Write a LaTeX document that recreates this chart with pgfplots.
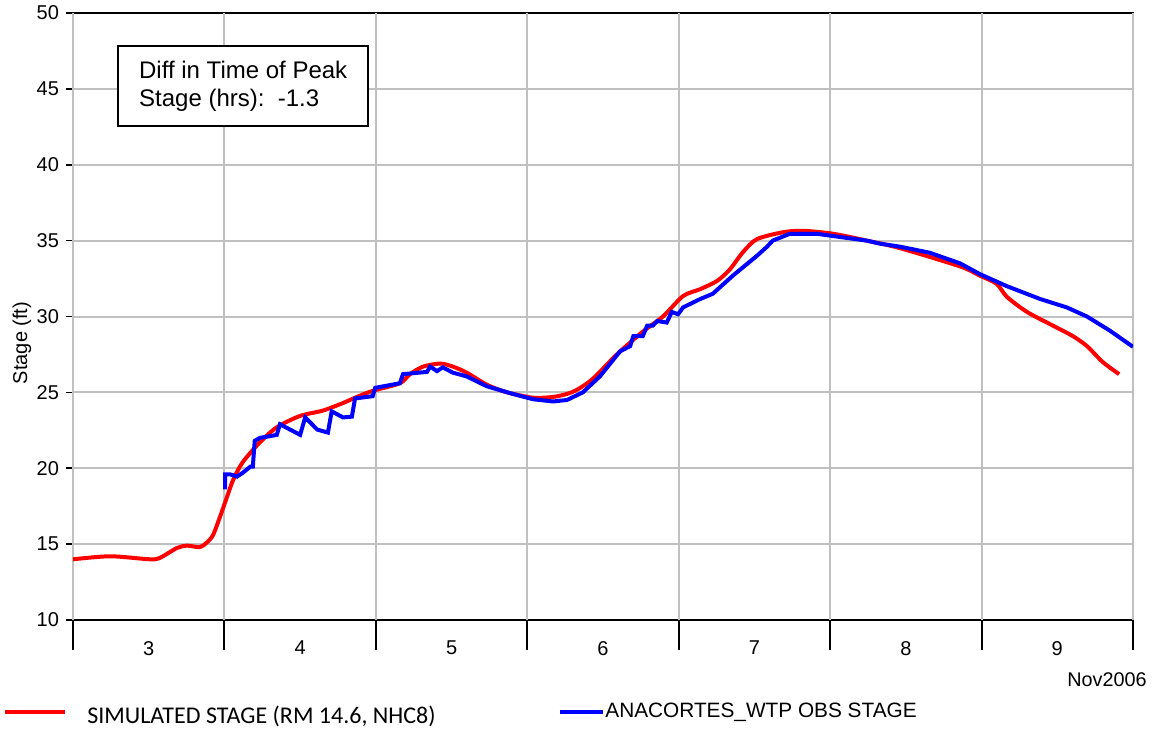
\documentclass[border=0pt]{standalone}
\usepackage{pgfplots}
\pgfplotsset{compat=1.18}
\usepackage{fontspec}
\setmainfont{Liberation Sans}
\newfontfamily\carlito{Carlito}
\definecolor{gridgray}{RGB}{192,192,192}
\begin{document}
\begin{tikzpicture}
\begin{axis}[
  name=ax,
  at={(0,0)}, anchor=south west,
  scale only axis,
  width=530pt, height=303.5pt,
  xmin=0, xmax=168, ymin=10, ymax=50,
  axis line style={black, line width=1pt},
  xtick={12,36,60,84,108,132,156},
  xticklabels={3,4,5,6,7,8,9},
  xtick style={draw=none},
  extra x ticks={0,24,48,72,96,120,144,168},
  extra x tick labels={},
  extra x tick style={grid=major, major tick length=15pt, tick align=outside, xtick style={draw=black, line width=1pt}},
  ytick={10,15,...,50},
  ymajorgrids,
  grid style={gridgray, line width=1pt},
  tick align=outside,
  major tick length=3.5pt,
  xtick pos=bottom, ytick pos=left,
  ytick style={black, line width=0.8pt},
  tick label style={font=\fontsize{10}{12}\selectfont},
  /pgf/number format/assume math mode=true,
  xticklabel style={yshift=-3.5pt},
  clip=true,
]
\addplot[red, line width=2pt, smooth, tension=0.45] coordinates {
(0,14.0) (5.9,14.2) (12.2,14.0) (13.8,14.1) (16.5,14.75) (18.1,14.9) (20.1,14.8)
(21.2,15.1) (22.2,15.6) (23.3,16.8) (24.4,18.1) (25.4,19.25) (26.9,20.4) (29.6,21.7)
(32.3,22.7) (36.0,23.45) (39.6,23.8) (42.8,24.3) (45.0,24.7) (47.5,25.1) (51.8,25.6)
(53.4,26.2) (55.5,26.7) (58.2,26.9) (60.2,26.7) (62.4,26.3) (65.6,25.5) (68.8,25.0)
(72.9,24.65) (76.1,24.7) (78.3,24.9) (80.0,25.2) (82.4,25.9) (86.2,27.5) (90.3,29.0)
(93.5,30.0) (96.7,31.35) (99.4,31.8) (102.1,32.35) (104.1,33.1) (106.2,34.25)
(108.4,35.1) (112.5,35.55) (115.7,35.65) (120.5,35.45) (125.8,35.0) (131.1,34.5)
(140.6,33.3) (143.7,32.7) (146.4,32.15) (148.0,31.3) (151.2,30.3) (155.3,29.4)
(158.5,28.7) (160.7,28.05) (163.2,27.0) (165.8,26.2)
};
\addplot[blue, line width=2pt] coordinates {
(24.1,18.6) (24.1,19.6) (24.9,19.6) (26.0,19.45) (26.9,19.7) (28.1,20.1) (28.5,20.1)
(28.8,21.8) (29.6,22.0) (31.0,22.1) (32.3,22.2) (32.8,22.9) (36.0,22.2) (36.8,23.35)
(38.7,22.55) (40.4,22.35) (41.0,23.75) (42.8,23.35) (44.2,23.4) (44.7,24.6)
(47.5,24.75) (47.9,25.3) (51.8,25.6) (52.3,26.2) (56.1,26.35) (56.6,26.7) (57.7,26.4)
(58.6,26.65) (60.2,26.3) (62.4,26.05) (65.6,25.4) (69.7,24.9) (72.9,24.55) (76.1,24.4)
(78.3,24.5) (80.8,25.0) (83.5,26.05) (86.7,27.7) (88.3,28.05) (88.8,28.7) (90.3,28.7)
(91.0,29.4) (91.9,29.4) (92.6,29.7) (94.1,29.6) (94.9,30.3) (95.9,30.15) (96.7,30.6)
(99.4,31.15) (101.4,31.5) (104.6,32.7) (108.4,34.0) (110.0,34.6) (110.9,35.0)
(113.6,35.45) (117.9,35.45) (120.5,35.3) (125.8,35.0) (127.9,34.8) (131.1,34.6)
(135.8,34.2) (140.6,33.5) (143.7,32.8) (148.0,32.0) (153.3,31.15) (157.5,30.6)
(160.7,30.0) (164.4,29.05) (168,28.0)
};
\node[draw=black, line width=1pt, fill=white, anchor=north west, align=left,
  font=\fontsize{12}{14}\selectfont, inner xsep=10.5pt,
  minimum height=40pt] at (axis cs:7,47.88)
  {Diff in Time of Peak\\Stage (hrs):\ \ -1.3};
\end{axis}
\begin{scope}[shift={(ax.south west)}]
\node[rotate=90, font=\fontsize{10}{12}\selectfont] at (-25.5pt,138.5pt) {Stage (ft)};
\node[anchor=base east, font=\fontsize{9.9}{12}\selectfont, inner sep=0pt] at (537pt,-33pt) {Nov2006};
\draw[red, line width=2pt] (-34pt,-46pt) -- (-4pt,-46pt);
\node[anchor=base west, font=\carlito\fontsize{12}{14}\selectfont, inner sep=0pt] at (7pt,-51.75pt) {SIMULATED STAGE (RM 14.6, NHC8)};
\draw[blue, line width=1.6pt] (243.5pt,-46pt) -- (265pt,-46pt);
\node[anchor=base west, font=\fontsize{10.4}{12}\selectfont, inner sep=0pt] at (266pt,-48.5pt) {ANACORTES\_WTP OBS STAGE};
\end{scope}
\pgfresetboundingbox
\path[shift={(ax.south west)}] (-36.5pt,-54.5pt) rectangle (542.5pt,310pt);
\end{tikzpicture}
\end{document}
